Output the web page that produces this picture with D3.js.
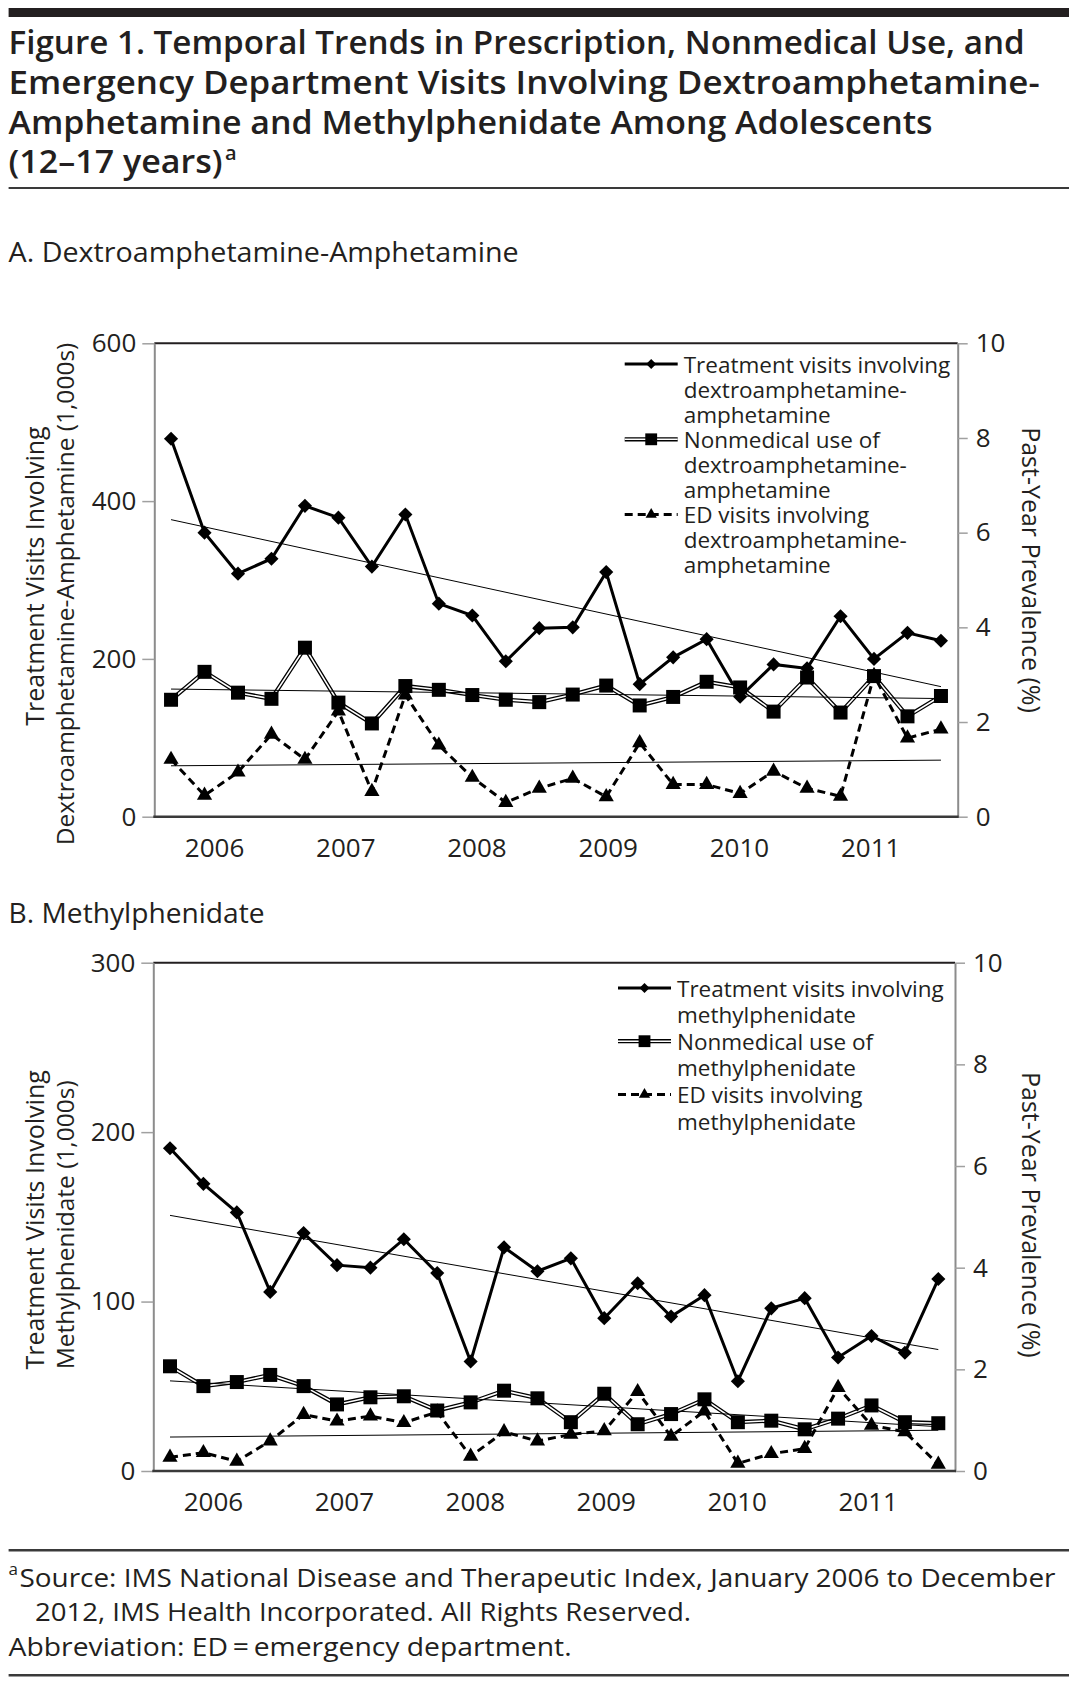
<!DOCTYPE html>
<html lang="en">
<head>
<meta charset="UTF-8">
<title>Figure 1. Temporal Trends</title>
<script src="https://d3js.org/d3.v7.min.js"></script>
<style>
  body { margin: 0; background: #fff; }
  svg { display: block; font-family: 'Open Sans', sans-serif; }
  text { fill: #231f20; }
</style>
</head>
<body>
<svg id="chart" width="1075" height="1681"></svg>
<script>
// quarterly categories, Q1 2006 .. Q4 2011
const quarters = [
  "2006 Q1", "2006 Q2", "2006 Q3", "2006 Q4",
  "2007 Q1", "2007 Q2", "2007 Q3", "2007 Q4",
  "2008 Q1", "2008 Q2", "2008 Q3", "2008 Q4",
  "2009 Q1", "2009 Q2", "2009 Q3", "2009 Q4",
  "2010 Q1", "2010 Q2", "2010 Q3", "2010 Q4",
  "2011 Q1", "2011 Q2", "2011 Q3", "2011 Q4"
];
const years = [2006, 2007, 2008, 2009, 2010, 2011];

// A. dextroamphetamine-amphetamine
const amphTreatment = [479, 360, 308, 327, 394, 379, 317, 383, 270, 255, 197, 239,
                       240, 310, 168, 202, 225, 152, 193, 188, 254, 200, 233, 223];
const amphNonmedical = [2.47, 3.06, 2.62, 2.49, 3.57, 2.41, 1.97, 2.76, 2.68, 2.57, 2.47, 2.42,
                        2.58, 2.77, 2.35, 2.53, 2.85, 2.73, 2.22, 2.94, 2.20, 2.97, 2.12, 2.55];
const amphED = [1.21, 0.45, 0.94, 1.74, 1.21, 2.23, 0.53, 2.57, 1.51, 0.83, 0.30, 0.60,
                0.81, 0.42, 1.56, 0.68, 0.68, 0.49, 0.96, 0.60, 0.43, 2.98, 1.66, 1.85];

// B. methylphenidate
const methTreatment = [190.5, 169.5, 152.6, 105.7, 140.4, 121.5, 120, 136.8, 116.8, 64.6, 132, 117.9,
                       125.5, 90.2, 110.8, 91.2, 103.8, 53, 96, 102, 67, 79.7, 69.8, 113.3];
const methNonmedical = [2.06, 1.67, 1.75, 1.89, 1.67, 1.31, 1.45, 1.47, 1.19, 1.35, 1.58, 1.43,
                        0.96, 1.52, 0.92, 1.12, 1.41, 0.96, 0.99, 0.82, 1.03, 1.29, 0.96, 0.94];
const methED = [0.27, 0.36, 0.19, 0.59, 1.11, 0.98, 1.08, 0.95, 1.16, 0.29, 0.77, 0.59,
                0.72, 0.79, 1.56, 0.68, 1.18, 0.15, 0.34, 0.44, 1.64, 0.90, 0.77, 0.13];

const amphLeftTicks = [0, 200, 400, 600];
const methLeftTicks = [0, 100, 200, 300];
const rightTicks = [0, 2, 4, 6, 8, 10];

const amphLegend = [
  ["Treatment visits involving", "dextroamphetamine-", "amphetamine"],
  ["Nonmedical use of", "dextroamphetamine-", "amphetamine"],
  ["ED visits involving", "dextroamphetamine-", "amphetamine"]
];
const methLegend = [
  ["Treatment visits involving", "methylphenidate"],
  ["Nonmedical use of", "methylphenidate"],
  ["ED visits involving", "methylphenidate"]
];

const ink = "#231f20";
const svg = d3.select("#chart");

// --- header / footer text ---
svg.append("rect").attr("x", 8.6).attr("y", 8).attr("width", 1060.4).attr("height", 9).attr("fill", ink);

const titleLines = [
  { t: "Figure 1. Temporal Trends in Prescription, Nonmedical Use, and", y: 54, w: 1016 },
  { t: "Emergency Department Visits Involving Dextroamphetamine-", y: 94, w: 1031 },
  { t: "Amphetamine and Methylphenidate Among Adolescents", y: 134, w: 924 },
  { t: "(12\u201317 years)", y: 173, w: 214 }
];
titleLines.forEach(l => {
  svg.append("text").attr("x", 8.6).attr("y", l.y)
    .attr("font-size", 32).attr("font-weight", 600)
    .attr("textLength", l.w).attr("lengthAdjust", "spacingAndGlyphs")
    .text(l.t);
});
svg.append("text").attr("x", 225).attr("y", 160).attr("font-size", 20).attr("font-weight", 600).text("a");
svg.append("rect").attr("x", 8.6).attr("y", 187).attr("width", 1060.4).attr("height", 2).attr("fill", "#3a3a3a");

function label(txt, x, y, size, w) {
  const t = svg.append("text").attr("x", x).attr("y", y).attr("font-size", size).text(txt);
  if (w) t.attr("textLength", w).attr("lengthAdjust", "spacingAndGlyphs");
  return t;
}
label("A. Dextroamphetamine-Amphetamine", 8.6, 262, 27, 510);
label("B. Methylphenidate", 8.6, 923, 27, 256);

svg.append("rect").attr("x", 8.6).attr("y", 1549).attr("width", 1060.4).attr("height", 2.5).attr("fill", "#3a3a3a");
svg.append("text").attr("x", 8.6).attr("y", 1575).attr("font-size", 17).text("a");
label("Source: IMS National Disease and Therapeutic Index, January 2006 to December", 19.5, 1587, 26, 1036);
label("2012, IMS Health Incorporated. All Rights Reserved.", 35, 1621, 26, 656);
label("Abbreviation: ED\u2009=\u2009emergency department.", 8.6, 1656, 26, 563);
svg.append("rect").attr("x", 8.6).attr("y", 1674).attr("width", 1060.4).attr("height", 2.5).attr("fill", "#3a3a3a");

// --- helpers ---
function linFit(vals) {
  const n = vals.length;
  const mx = (n - 1) / 2, my = d3.mean(vals);
  let sxy = 0, sxx = 0;
  vals.forEach((v, i) => { sxy += (i - mx) * (v - my); sxx += (i - mx) * (i - mx); });
  const b = sxy / sxx;
  return i => my + b * (i - mx);
}

function drawMarker(g, type, cx, cy, small) {
  if (type === "treat") {
    g.append("path").attr("d", d3.symbol(d3.symbolSquare, small ? 50 : 100)())
      .attr("transform", `translate(${cx},${cy}) rotate(45)`).attr("fill", "#000");
  } else if (type === "nonmed") {
    g.append("path").attr("d", d3.symbol(d3.symbolSquare, small ? 140 : 196)())
      .attr("transform", `translate(${cx},${cy})`).attr("fill", "#000");
  } else {
    g.append("path").attr("d", d3.symbol(d3.symbolTriangle, small ? 55 : 100)())
      .attr("transform", `translate(${cx},${cy})`).attr("fill", "#000");
  }
}

function styleLine(g, type, d) {
  if (type === "nonmed") {
    g.append("path").attr("d", d).attr("fill", "none").attr("stroke", "#000").attr("stroke-width", 4.2);
    g.append("path").attr("d", d).attr("fill", "none").attr("stroke", "#fff").attr("stroke-width", 1.6);
  } else {
    const p = g.append("path").attr("d", d).attr("fill", "none").attr("stroke", "#000").attr("stroke-width", 3)
      .attr("stroke-linejoin", "miter");
    if (type === "ed") p.attr("stroke-dasharray", "8,5");
  }
}

function drawPanel(p) {
  const g = svg.append("g");
  const x = d3.scalePoint().domain(quarters).range([p.left, p.right]).padding(0.5);
  const n = quarters.length;
  const xi = d3.scaleLinear().domain([0, n - 1]).range([x(quarters[0]), x(quarters[n - 1])]);
  const yL = d3.scaleLinear().domain([0, p.leftMax]).range([p.bottom, p.top]);
  const yR = d3.scaleLinear().domain([0, 10]).range([p.bottom, p.top]);
  const yearX = d3.scaleLinear().domain([years[0], years[years.length - 1]]).range([xi(1.3), xi(20.9)]);

  // frame
  g.append("line").attr("x1", p.left).attr("x2", p.right).attr("y1", p.top).attr("y2", p.top)
    .attr("stroke", ink).attr("stroke-width", 2);

  const axL = g.append("g").attr("transform", `translate(${p.left},0)`)
    .call(d3.axisLeft(yL).tickValues(p.leftTicks).tickSize(12).tickSizeOuter(0).tickPadding(6));
  const axR = g.append("g").attr("transform", `translate(${p.right},0)`)
    .call(d3.axisRight(yR).tickValues(rightTicks).tickSize(10).tickSizeOuter(0).tickPadding(8));
  [axL, axR].forEach(a => {
    a.attr("font-family", null).attr("font-size", 26);
    a.select(".domain").attr("stroke", "#8c8c8c").attr("stroke-width", 2);
    a.selectAll(".tick line").attr("stroke", "#a0a0a0").attr("stroke-width", 1.5);
    a.selectAll(".tick text").attr("fill", ink);
  });
  g.append("line").attr("x1", p.left - 1).attr("x2", p.right + 1).attr("y1", p.bottom).attr("y2", p.bottom)
    .attr("stroke", "#3a3a3a").attr("stroke-width", 2.5);

  g.selectAll(".year").data(years).join("text")
    .attr("x", d => yearX(d)).attr("y", p.bottom + 40)
    .attr("text-anchor", "middle").attr("font-size", 26).text(d => d);

  // axis titles
  const midY = (p.top + p.bottom) / 2;
  p.leftTitle.forEach((t, k) => {
    g.append("text").attr("transform", `translate(${34 + k * 30.5},${midY + p.leftTitleShift[k]}) rotate(-90)`)
      .attr("text-anchor", "middle").attr("dominant-baseline", "central")
      .attr("font-size", k === 0 ? 25 : 24.5).text(t);
  });
  g.append("text").attr("transform", `translate(1032,${midY + p.rightTitleShift}) rotate(90)`)
    .attr("text-anchor", "middle").attr("dominant-baseline", "central").attr("font-size", 25)
    .text("Past-Year Prevalence (%)");

  // series
  const series = [
    { type: "treat", vals: p.treatment, y: yL },
    { type: "nonmed", vals: p.nonmedical, y: yR },
    { type: "ed", vals: p.ed, y: yR }
  ];
  series.forEach(s => {
    const line = d3.line().x((d, i) => xi(i)).y(d => s.y(d));
    styleLine(g, s.type, line(s.vals));
    s.vals.forEach((v, i) => drawMarker(g, s.type, xi(i), s.y(v), false));
  });
  // linear trend lines
  series.forEach(s => {
    const f = linFit(s.vals);
    g.append("line").attr("x1", xi(0)).attr("x2", xi(n - 1))
      .attr("y1", s.y(f(0))).attr("y2", s.y(f(n - 1)))
      .attr("stroke", "#000").attr("stroke-width", 1);
  });

  // legend
  let row = 0;
  p.legend.forEach((lines, k) => {
    const type = series[k].type;
    const yc = p.legendTop + row * p.legendStep;
    const lx0 = p.right - p.legendInset, lx1 = lx0 + 53;
    styleLine(g, type, d3.line()([[lx0, yc], [lx1, yc]]));
    drawMarker(g, type, (lx0 + lx1) / 2, yc, true);
    lines.forEach((t, j) => {
      g.append("text").attr("x", lx1 + 6).attr("y", yc + j * p.legendStep)
        .attr("dominant-baseline", "central").attr("font-size", 22.5).text(t);
    });
    row += lines.length;
  });
}

drawPanel({
  left: 154.3, right: 957.7, top: 343.3, bottom: 816.7,
  leftMax: 600, leftTicks: amphLeftTicks,
  leftTitle: ["Treatment Visits Involving", "Dextroamphetamine-Amphetamine (1,000s)"],
  leftTitleShift: [-4, 14], rightTitleShift: -10,
  treatment: amphTreatment, nonmedical: amphNonmedical, ed: amphED,
  legend: amphLegend, legendTop: 364, legendStep: 25.1, legendInset: 333
});

drawPanel({
  left: 153.3, right: 955, top: 962.7, bottom: 1471,
  leftMax: 300, leftTicks: methLeftTicks,
  leftTitle: ["Treatment Visits Involving", "Methylphenidate (1,000s)"],
  leftTitleShift: [3, 8], rightTitleShift: -2,
  treatment: methTreatment, nonmedical: methNonmedical, ed: methED,
  legend: methLegend, legendTop: 988, legendStep: 26.6, legendInset: 337
});
</script>
</body>
</html>
